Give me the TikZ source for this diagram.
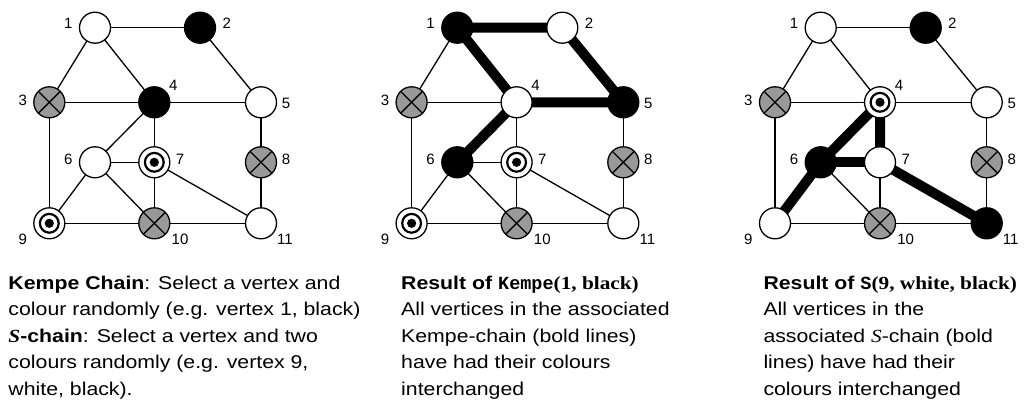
\documentclass[tikz,border=0pt]{standalone}
\usepackage{fontspec}
\setmainfont{Liberation Sans}
\newfontfamily\capsans{Liberation Sans}[FakeStretch=1.15]
\newfontfamily\capserif{Liberation Serif}[FakeStretch=1.15]
\newfontfamily\capmono{Liberation Mono}[FakeStretch=1.0]
\usetikzlibrary{backgrounds}

\definecolor{vgray}{HTML}{999999}

\tikzset{
  vtx/.style={circle, draw=black, line width=1.3pt, minimum size=31pt, inner sep=0pt},
  wh/.style={vtx, fill=white},
  bk/.style={vtx, fill=black},
  gx/.style={vtx, fill=vgray, path picture={
      \draw[black, line width=1.3pt] (path picture bounding box.north west) -- (path picture bounding box.south east);
      \draw[black, line width=1.3pt] (path picture bounding box.north east) -- (path picture bounding box.south west);}},
  bull/.style={vtx, fill=white, path picture={
      \fill[black] (path picture bounding box.center) circle (4.6pt);
      \draw[black, line width=2.2pt] (path picture bounding box.center) circle (9.4pt);}},
  edge/.style={line width=1.3pt},
  chain/.style={line width=10pt},
  vlabel/.style={font=\fontsize{15}{15}\selectfont, inner sep=0pt},
  txt/.style={font=\capsans\fontsize{18.5}{20}\selectfont, inner sep=0pt, anchor=base west},
}

% vertex labels around a vertex node
\newcommand{\vlabels}[1]{%
  \node[vlabel] (#1l1) at ([shift={(-26.7pt,4.4pt)}]#11.center) {1};
  \node[vlabel] (#1l2) at ([shift={(26.7pt,4.4pt)}]#12.center) {2};
  \node[vlabel] (#1l3) at ([shift={(-26.6pt,2.3pt)}]#13.center) {3};
  \node[vlabel] (#1l4) at ([shift={(19pt,17.3pt)}]#14.center) {4};
  \node[vlabel] (#1l5) at ([shift={(25pt,-0.7pt)}]#15.center) {5};
  \node[vlabel] (#1l6) at ([shift={(-26.7pt,3.3pt)}]#16.center) {6};
  \node[vlabel] (#1l7) at ([shift={(25.7pt,3.3pt)}]#17.center) {7};
  \node[vlabel] (#1l8) at ([shift={(25pt,3.3pt)}]#18.center) {8};
  \node[vlabel] (#1l9) at ([shift={(-26.6pt,-15.7pt)}]#19.center) {9};
  \node[vlabel] (#1l10) at ([shift={(25.7pt,-15.7pt)}]#110.center) {10};
  \node[vlabel] (#1l11) at ([shift={(24pt,-15.7pt)}]#111.center) {11};
}

% thin edges of the graph
\newcommand{\thinedges}[1]{%
  \begin{scope}[on background layer]
    \foreach \u/\v in {1/2,1/3,1/4,2/5,3/4,4/5,3/9,4/6,4/7,5/8,6/7,6/9,6/10,7/10,7/11,8/11,9/10,10/11}
      \draw[edge] (#1\u.center) -- (#1\v.center);
  \end{scope}
}

\begin{document}
\begin{tikzpicture}[x=1pt, y=1pt]
\useasboundingbox (0,0) rectangle (1024,405);

% ---------- left graph: initial colouring ----------
\begin{scope}[shift={(0,0)}]
  \node[wh]   (a1)  at (95,377.3)   {};
  \node[bk]   (a2)  at (200,377.3)  {};
  \node[gx]   (a3)  at (49.3,302.7) {};
  \node[bk]   (a4)  at (154.3,302.7){};
  \node[wh]   (a5)  at (261,302.7)  {};
  \node[wh]   (a6)  at (95,242.7)   {};
  \node[bull] (a7)  at (154.3,242.7){};
  \node[gx]   (a8)  at (261,242.7)  {};
  \node[bull] (a9)  at (49.3,181.7) {};
  \node[gx]   (a10) at (154.3,181.7){};
  \node[wh]   (a11) at (261,181.7)  {};
\end{scope}
\thinedges{a}
\vlabels{a}

% ---------- middle graph: after Kempe(1, black) ----------
\begin{scope}[shift={(362.3,0)}]
  \node[bk]   (b1)  at (95,377.3)   {};
  \node[wh]   (b2)  at (200,377.3)  {};
  \node[gx]   (b3)  at (49.3,302.7) {};
  \node[wh]   (b4)  at (154.3,302.7){};
  \node[bk]   (b5)  at (261,302.7)  {};
  \node[bk]   (b6)  at (95,242.7)   {};
  \node[bull] (b7)  at (154.3,242.7){};
  \node[gx]   (b8)  at (261,242.7)  {};
  \node[bull] (b9)  at (49.3,181.7) {};
  \node[gx]   (b10) at (154.3,181.7){};
  \node[wh]   (b11) at (261,181.7)  {};
\end{scope}
\thinedges{b}
\begin{scope}[on background layer]
  \draw[chain] (b1.center) -- (b2.center) -- (b5.center) -- (b4.center) -- (b1.center);
  \draw[chain] (b4.center) -- (b6.center);
\end{scope}
\vlabels{b}

% ---------- right graph: after S(9, white, black) ----------
\begin{scope}[shift={(725.7,0)}]
  \node[wh]   (c1)  at (95,377.3)   {};
  \node[bk]   (c2)  at (200,377.3)  {};
  \node[gx]   (c3)  at (49.3,302.7) {};
  \node[bull] (c4)  at (154.3,302.7){};
  \node[wh]   (c5)  at (261,302.7)  {};
  \node[bk]   (c6)  at (95,242.7)   {};
  \node[wh]   (c7)  at (154.3,242.7){};
  \node[gx]   (c8)  at (261,242.7)  {};
  \node[wh]   (c9)  at (49.3,181.7) {};
  \node[gx]   (c10) at (154.3,181.7){};
  \node[bk]   (c11) at (261,181.7)  {};
\end{scope}
\thinedges{c}
\begin{scope}[on background layer]
  \draw[chain] (c9.center) -- (c6.center) -- (c4.center) -- (c7.center) -- (c11.center);
  \draw[chain] (c6.center) -- (c7.center);
\end{scope}
\vlabels{c}

% ---------- captions ----------
\node[txt] (t11) at (8.3,115.7) {\textbf{Kempe Chain}: Select a vertex and};
\node[txt] (t12) at (8.3,89.2)  {colour randomly (e.g. vertex 1, black)};
\node[txt] (t13) at (8.3,62.7)  {{\capserif\bfseries\itshape S}\textbf{-chain}: Select a vertex and two};
\node[txt] (t14) at (8.3,36.2)  {colours randomly (e.g. vertex 9,};
\node[txt] (t15) at (8.3,9.7)   {white, black).};

\node[txt] (t21) at (401,115.7) {\textbf{Result of} {\capmono\bfseries Kempe}{\capserif\bfseries(1, black)}};
\node[txt] (t22) at (401,89.2)  {All vertices in the associated};
\node[txt] (t23) at (401,62.7)  {Kempe-chain (bold lines)};
\node[txt] (t24) at (401,36.2)  {have had their colours};
\node[txt] (t25) at (401,9.7)   {interchanged};

\node[txt] (t31) at (763.3,115.7) {\textbf{Result of} {\capmono\bfseries S}{\capserif\bfseries(9, white, black)}};
\node[txt] (t32) at (763.3,89.2)  {All vertices in the};
\node[txt] (t33) at (763.3,62.7)  {associated {\capserif\itshape S}-chain (bold};
\node[txt] (t34) at (763.3,36.2)  {lines) have had their};
\node[txt] (t35) at (763.3,9.7)   {colours interchanged};
\end{tikzpicture}
\end{document}
